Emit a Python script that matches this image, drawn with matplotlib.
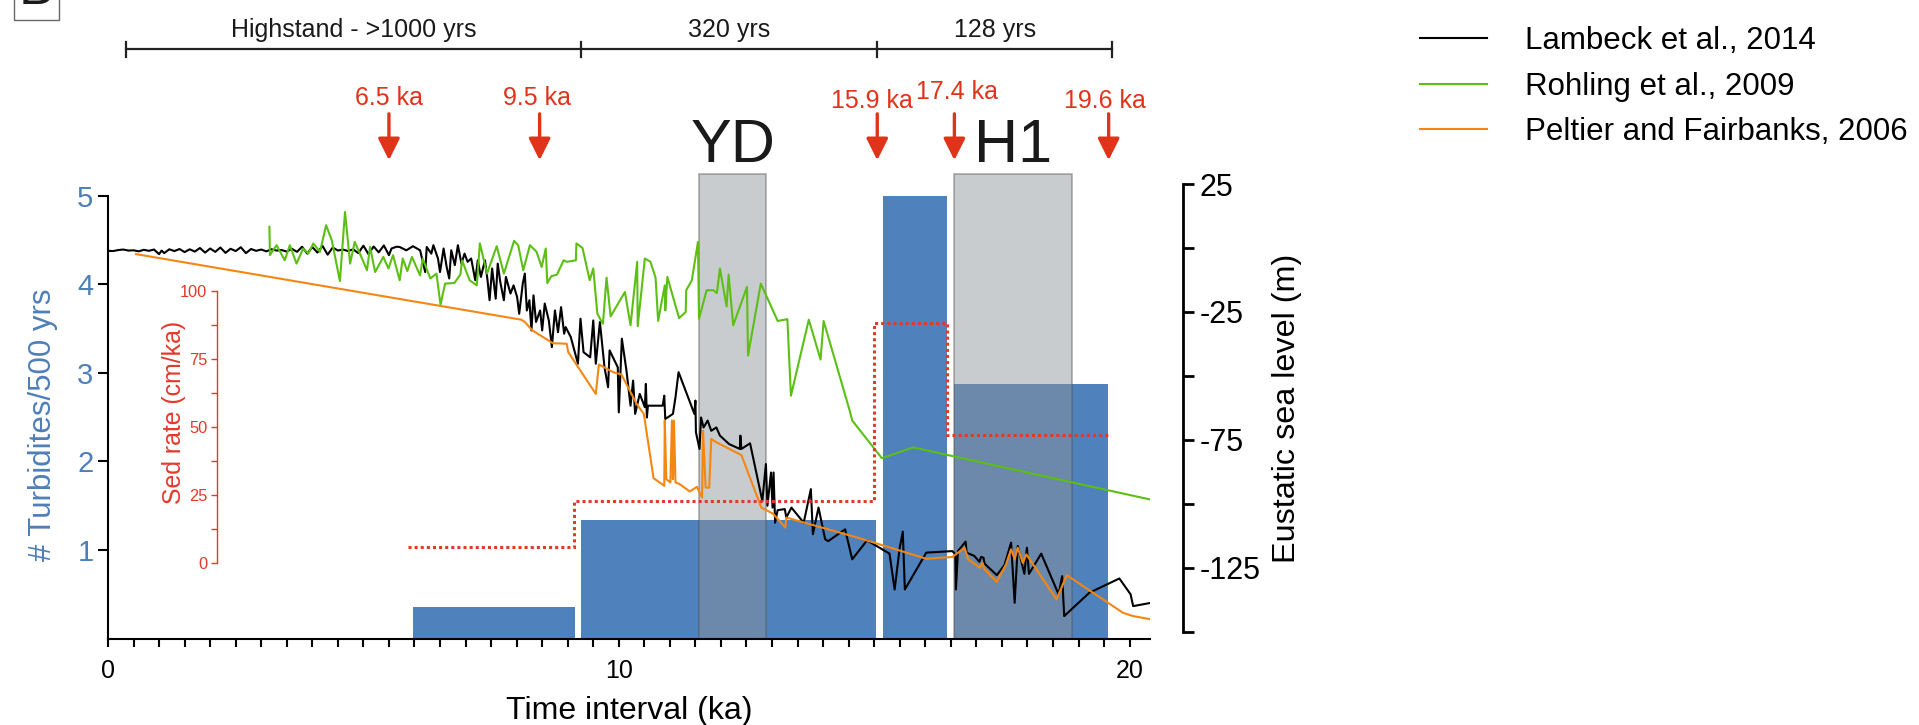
import numpy as np
import matplotlib
matplotlib.use("Agg")
import matplotlib.pyplot as plt
import matplotlib.transforms as mtransforms
from matplotlib.lines import Line2D

plt.rcParams['font.family'] = ['Liberation Sans', 'DejaVu Sans']

# turbidite bars (ka edges, # per 500 yrs)
bar_start = [5.98, 9.26, 15.17, 16.56]
bar_end = [9.14, 15.04, 16.43, 19.58]
turbidites = [0.36, 1.34, 5.0, 2.87]

# cold events
yd_span = [11.57, 12.89]
h1_span = [16.56, 18.87]
shade_top = 5.25

# sed rate steps (cm/ka)
sed_edges = [5.87, 9.12, 15.0, 16.43, 19.57]
sed_rate = [5.6, 22.5, 88.0, 47.0]

# Lambeck et al., 2014
lam_ka = [0.0, 0.1, 0.2, 0.3, 0.4, 0.5, 0.6, 0.7, 0.8, 0.9, 1.0, 1.05, 1.1, 1.2, 1.3, 1.4,
          1.5, 1.6, 1.7, 1.8, 1.9, 2.0, 2.1, 2.2, 2.3, 2.4, 2.5, 2.6, 2.7, 2.8, 2.9, 3.0,
          3.1, 3.2, 3.3, 3.4, 3.5, 3.6, 3.7, 3.8, 3.9, 4.0, 4.1, 4.2, 4.3, 4.4, 4.5, 4.6,
          4.7, 4.8, 4.9, 5.0, 5.1, 5.2, 5.3, 5.4, 5.5, 5.55, 5.65,
          5.71, 5.84, 5.97, 6.11, 6.21, 6.24, 6.33, 6.37, 6.46, 6.50, 6.57, 6.63, 6.68, 6.72,
          6.79, 6.85, 6.92, 6.98, 7.04, 7.11, 7.19, 7.24, 7.30, 7.38, 7.43, 7.47, 7.52, 7.59,
          7.63, 7.68, 7.75, 7.79, 7.88, 7.94, 8.01, 8.05, 8.12, 8.16, 8.20, 8.25, 8.29, 8.33,
          8.38, 8.46, 8.50, 8.55, 8.63, 8.69, 8.75, 8.81, 8.87, 8.93, 8.96, 9.06, 9.20, 9.25,
          9.31, 9.44, 9.50, 9.55, 9.63, 9.72, 9.79, 9.82, 9.98, 10.00, 10.06, 10.15, 10.23,
          10.28, 10.32, 10.41, 10.51, 10.53, 10.55, 10.57, 10.86, 10.89, 10.91, 11.06, 11.11,
          11.17, 11.48, 11.50, 11.51, 11.58, 11.61, 11.66, 11.74, 11.81, 11.91, 11.98, 12.16,
          12.37, 12.38, 12.40, 12.57, 12.81, 12.88, 12.91, 12.98, 13.01, 13.03, 13.06, 13.11,
          13.25, 13.28, 13.38, 13.62, 13.76, 13.80, 13.91, 14.04, 14.10, 14.43, 14.57, 14.86,
          15.30, 15.40, 15.50, 15.56, 15.60, 16.02, 16.53, 16.59, 16.60, 16.64, 16.79, 16.81,
          16.96, 17.06, 17.09, 17.14, 17.16, 17.40, 17.55, 17.68, 17.75, 17.81, 17.94, 17.99,
          18.03, 18.27, 18.61, 18.68, 18.72, 19.21, 19.80, 20.02, 20.07, 20.42]
lam_m = [-1.1, -1.2, -0.8, -0.6, -1.0, -0.9, -1.3, -0.7, -1.1, -0.6, -2.4, -1.0, -2.0, -0.5, -1.2, -0.4,
         -1.6, -0.5, -1.4, 0.0, -1.8, -0.2, -1.5, 0.2, -1.9, -0.3, -1.2, 0.3, -2.0, -0.4, -1.1, -0.6,
         -1.3, -0.5, -1.0, -0.8, -1.4, -0.3, -1.5, 0.5, -2.2, 0.4, -1.8, 0.8, -2.6, 0.2, -1.0, -0.6,
         -1.2, -0.5, -2.0, 0.9, -2.4, 0.6, -1.7, 1.0, -2.8, -0.2, 0.5,
         0.4, -0.9, 0.7, -0.9, -9.4, 0.4, -2.2, 1.1, -4.1, -9.4, -0.2, -7.4, -11.9, -0.9,
         -6.7, 1.1, -6.1, -2.2, -5.4, -4.1, -12.6, -4.8, -11.3, -4.8, -12.6, -20.4, -8.0, -19.8,
         -6.1, -13.3, -20.4, -11.3, -17.8, -14.6, -19.2, -25.7, -13.9, -10.0, -24.4, -20.4, -32.2, -18.5,
         -28.9, -24.4, -32.2, -21.7, -28.3, -38.7, -24.4, -32.9, -23.1, -33.5, -30.9, -34.8, -45.2, -27.6,
         -40.7, -42.7, -28.3, -45.2, -28.9, -46.6, -54.4, -40.0, -46.6, -64.2, -35.4, -47.9, -61.6,
         -51.8, -64.8, -57.0, -62.2, -53.1, -66.2, -61.6, -61.6, -57.7, -66.8, -64.8, -58.3,
         -48.5, -64.8, -59.6, -72.0, -78.5, -66.2, -70.1, -67.4, -71.4, -70.1, -73.3, -76.6,
         -78.5, -73.3, -78.5, -76.3, -98.8, -84.4, -100.7, -87.7, -101.4, -87.7, -107.3, -102.4,
         -102.0, -105.3, -101.4, -107.3, -94.2, -111.8, -101.4, -113.8, -114.5, -109.9, -121.6, -114.2,
         -119.4, -133.4, -117.1, -110.8, -133.4, -119.0, -118.4, -119.7, -133.4, -118.4, -114.7, -119.0,
         -120.3, -122.6, -120.7, -121.0, -123.3, -127.8, -123.9, -115.1, -138.6, -116.4, -127.3, -117.1,
         -127.3, -119.4, -135.3, -128.2, -143.8, -134.7, -129.1, -135.3, -139.9, -138.6]

# Rohling et al., 2009
roh_ka = [3.16, 3.17, 3.30, 3.46, 3.56, 3.69, 3.82, 3.92, 4.02, 4.15, 4.27, 4.38, 4.54, 4.64,
          4.74, 4.83, 4.96, 5.07, 5.13, 5.23, 5.39, 5.49, 5.58, 5.71, 5.77, 5.86, 5.95, 6.11,
          6.16, 6.31, 6.43, 6.51, 6.60, 6.78, 6.90, 6.93, 7.08, 7.22, 7.28, 7.42, 7.61, 7.75,
          7.95, 8.03, 8.13, 8.26, 8.39, 8.49, 8.57, 8.60, 8.68, 8.79, 8.92, 8.98, 9.16, 9.17,
          9.29, 9.43, 9.50, 9.58, 9.69, 9.76, 9.84, 10.12, 10.23, 10.36, 10.37, 10.51, 10.62,
          10.72, 10.77, 10.90, 10.91, 10.95, 11.18, 11.31, 11.32, 11.43, 11.55, 11.57, 11.72,
          11.85, 11.92, 11.98, 12.11, 12.15, 12.24, 12.51, 12.53, 12.78, 13.11, 13.30, 13.37,
          13.72, 13.95, 14.01, 14.52, 14.57, 15.15, 15.76, 20.44]
roh_m = [8.3, -2.8, 1.1, -4.8, 1.1, -6.1, -0.2, -2.2, 1.8, -1.5, 8.9, 3.1, -12.9, 14.1,
         -6.1, 2.4, -3.5, -8.7, 0.4, -9.4, -3.5, -8.0, -2.8, -12.6, -4.1, -9.0, -3.5, -10.7,
         -4.1, -11.9, -10.0, -22.1, -13.9, -13.7, -10.3, -4.8, -12.6, -14.6, 1.8, -10.0, 0.7, -10.0,
         2.8, 1.1, -8.7, 1.1, -1.5, -7.4, -0.2, -13.7, -11.0, -10.4, -4.8, -5.4, -4.8, 1.8,
         0.0, -12.6, -8.0, -25.7, -29.6, -11.6, -26.7, -17.2, -30.2, -5.4, -30.6, -4.1, -5.4,
         -11.6, -28.5, -14.6, -24.4, -11.3, -27.4, -25.0, -16.5, -12.6, 2.4, -27.6, -16.5,
         -16.5, -17.6, -8.0, -22.8, -10.4, -30.2, -15.2, -42.0, -13.9, -28.5, -27.8, -57.7,
         -28.0, -43.6, -28.5, -63.5, -67.4, -82.1, -77.9, -98.4]

# Peltier and Fairbanks, 2006
pel_ka = [0.55, 8.09, 8.16, 8.31, 8.71, 8.98, 9.01, 9.55, 9.61, 9.89, 10.05, 10.35, 10.49,
          10.68, 10.89, 10.90, 10.93, 11.01, 11.04, 11.06, 11.08, 11.11, 11.19, 11.39, 11.53,
          11.63, 11.65, 11.70, 11.77, 11.81, 11.91, 12.40, 12.79, 13.02, 13.26, 13.28, 14.72,
          16.02, 16.53, 16.77, 16.84, 17.07, 17.12, 17.16, 17.40, 17.58, 17.68, 17.75, 17.81,
          17.91, 17.98, 18.57, 18.77, 19.87, 20.07, 20.43]
pel_m = [-2.4, -28.0, -28.9, -32.2, -37.2, -37.4, -40.7, -57.0, -45.5, -48.5, -49.4, -60.9, -64.8,
         -89.9, -92.9, -67.4, -90.3, -91.6, -67.4, -90.3, -67.4, -91.6, -92.2, -95.1, -93.3,
         -97.5, -71.4, -93.6, -93.6, -74.6, -75.9, -80.9, -101.4, -103.8, -109.2, -105.3, -113.4,
         -121.4, -120.7, -117.1, -121.6, -124.9, -123.0, -125.5, -130.4, -123.6, -117.7, -121.6, -117.1,
         -123.0, -119.7, -137.3, -127.8, -142.5, -143.8, -145.1]

# annotations
bracket_ka = [0.35, 9.26, 15.06, 19.66]
bracket_txt = ['Highstand - >1000 yrs', '320 yrs', '128 yrs']
arrow_ka = [5.5, 8.45, 15.06, 16.57, 19.59]
arrow_txt = ['6.5 ka', '9.5 ka', '15.9 ka', '17.4 ka', '19.6 ka']
arrow_txt_ka = [5.5, 8.4, 14.96, 16.62, 19.52]
arrow_txt_y = [0.865, 0.865, 0.860, 0.873, 0.860]

BLUE = '#4f81bd'
BLUE_TXT = '#4f7fb8'
RED = '#e23a2a'
GREEN = '#5cbf14'
ORANGE = '#f38712'
XMAX = 20.4

fig = plt.figure(figsize=(19.19, 7.25), dpi=100)
L, W = 0.05628, 0.543

# main axis: turbidites
ax = fig.add_axes([L, 0.1193, W, 0.647])
ax.set_xlim(0, XMAX)
ax.set_ylim(0, 5.3)
for s in ['top', 'right']:
    ax.spines[s].set_visible(False)
ax.spines['left'].set_bounds(0, 5)
ax.spines['left'].set_linewidth(1.5)
ax.spines['bottom'].set_linewidth(1.5)
ax.bar(bar_start, turbidites, width=np.array(bar_end) - np.array(bar_start),
       align='edge', color=BLUE, zorder=1)
for span in [yd_span, h1_span]:
    ax.bar(span[0], shade_top, width=span[1] - span[0], align='edge',
           color='#8d9397', alpha=0.47, edgecolor='#555555', linewidth=1.2, zorder=2)
ax.set_yticks([1, 2, 3, 4, 5])
ax.tick_params(axis='y', colors=BLUE_TXT, labelsize=21, length=7, width=1.5)
ax.tick_params(axis='y', color='black')
ax.set_ylabel('# Turbidites/500 yrs', color=BLUE_TXT, fontsize=22.5, labelpad=14)
ax.yaxis.label.set_y(0.455)
ax.set_xticks([0, 10, 20])
ax.set_xticks(np.arange(0, XMAX, 0.5), minor=True)
ax.tick_params(axis='x', which='both', length=6, width=1.5, labelsize=18, pad=9)
ax.set_xlabel('Time interval (ka)', fontsize=23, labelpad=9)

# sea level axis
ax_sl = fig.add_axes([L, 0.1283, W, 0.6179], facecolor='none')
ax_sl.set_xlim(0, XMAX)
ax_sl.set_ylim(-150, 25)
for s in ['top', 'left', 'bottom']:
    ax_sl.spines[s].set_visible(False)
ax_sl.spines['right'].set_position(('outward', 23.8))
ax_sl.spines['right'].set_linewidth(2)
ax_sl.set_xticks([])
ax_sl.yaxis.tick_right()
ax_sl.yaxis.set_label_position('right')
sl_ticks = np.arange(-150, 26, 25)
ax_sl.set_yticks(sl_ticks)
ax_sl.set_yticklabels([str(t) if t in (25, -25, -75, -125) else '' for t in sl_ticks])
ax_sl.tick_params(axis='y', labelsize=22, length=8, width=2, pad=4)
ax_sl.set_ylabel('Eustatic sea level (m)', fontsize=23.3, labelpad=8)
ax_sl.plot(lam_ka, lam_m, color='black', lw=1.5, label='Lambeck et al., 2014')
ax_sl.plot(roh_ka, roh_m, color=GREEN, lw=1.5, label='Rohling et al., 2009')
ax_sl.plot(pel_ka, pel_m, color=ORANGE, lw=1.5, label='Peltier and Fairbanks, 2006')

# sed rate axis
ax_sed = fig.add_axes([L, 0.2239, W, 0.3752], facecolor='none')
ax_sed.set_xlim(0, XMAX)
ax_sed.set_ylim(0, 100)
for s in ['top', 'right', 'bottom']:
    ax_sed.spines[s].set_visible(False)
ax_sed.spines['left'].set_position(('data', 2.134))
ax_sed.spines['left'].set_color(RED)
ax_sed.spines['left'].set_linewidth(1)
ax_sed.set_xticks([])
ax_sed.set_yticks([0, 25, 50, 75, 100])
ax_sed.set_yticks(np.arange(12.5, 100, 25), minor=True)
ax_sed.tick_params(axis='y', which='both', colors=RED, labelsize=11.8, length=4, width=1, pad=3)
ax_sed.set_ylabel('Sed rate (cm/ka)', color=RED, fontsize=17.9, labelpad=-4)
ax_sed.yaxis.label.set_y(0.552)
ax_sed.stairs(sed_rate, sed_edges, baseline=None, color=RED, lw=2.2,
              linestyle=(0, (1, 1)))

# brackets and arrows above the plot
trans = mtransforms.blended_transform_factory(ax.transData, fig.transFigure)
ax.plot([bracket_ka[0], bracket_ka[-1]], [0.932, 0.932], transform=trans,
        color='#222222', lw=1.6, clip_on=False)
for b in bracket_ka:
    ax.plot([b, b], [0.922, 0.942], transform=trans, color='#222222', lw=1.6, clip_on=False)
for i, t in enumerate(bracket_txt):
    ax.text((bracket_ka[i] + bracket_ka[i + 1]) / 2, 0.958, t, transform=trans,
            ha='center', va='center', fontsize=18, color='#1a1a1a')
for xa in arrow_ka:
    ax.annotate('', xy=(xa, 0.779), xytext=(xa, 0.843), xycoords=trans, textcoords=trans,
                arrowprops=dict(arrowstyle='-|>,head_length=0.6,head_width=0.3',
                                color='#e0341a', lw=2.4, mutation_scale=22,
                                shrinkA=0, shrinkB=0),
                annotation_clip=False)
for xt, yt, t in zip(arrow_txt_ka, arrow_txt_y, arrow_txt):
    ax.text(xt, yt, t, transform=trans, ha='center', va='center', fontsize=18, color='#e0341a')
ax.text(np.mean(yd_span), 0.798, 'YD', transform=trans, ha='center', va='center',
        fontsize=44, color='#1a1a1a')
ax.text(np.mean(h1_span), 0.798, 'H1', transform=trans, ha='center', va='center',
        fontsize=44, color='#1a1a1a')

# panel letter (cut at the top edge, as in the source)
fig.text(0.019, 1.014, 'B', ha='center', va='center', fontsize=38, color='#1a1a1a',
         bbox=dict(facecolor='white', edgecolor='#666666', boxstyle='square,pad=0.1'))

handles = [Line2D([], [], color='black', lw=1.5),
           Line2D([], [], color=GREEN, lw=1.5),
           Line2D([], [], color=ORANGE, lw=1.5)]
fig.legend(handles, ['Lambeck et al., 2014', 'Rohling et al., 2009', 'Peltier and Fairbanks, 2006'],
           loc='upper left', bbox_to_anchor=(1420 / 1919, 0.964), frameon=False,
           fontsize=22.5, handlelength=2.15, handletextpad=1.2, labelspacing=0.5,
           borderpad=0, borderaxespad=0)

fig.savefig('out.png', dpi=100)
